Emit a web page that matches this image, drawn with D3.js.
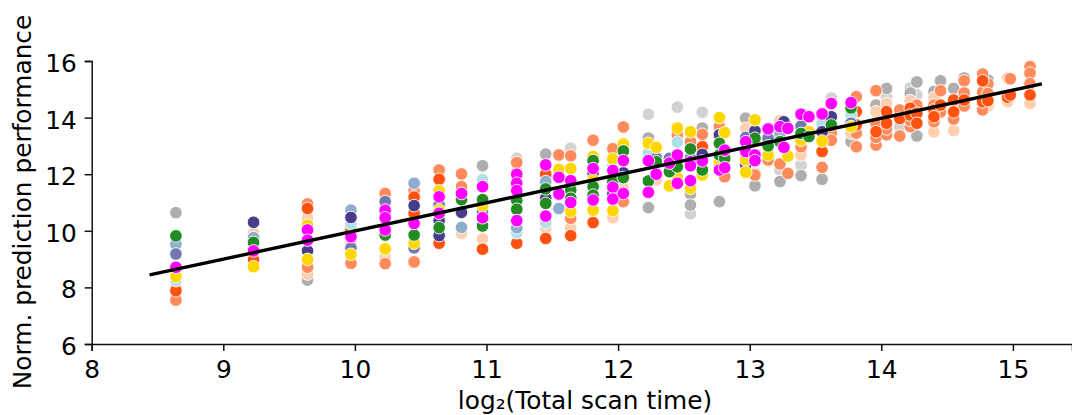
<!DOCTYPE html>
<html>
<head>
<meta charset="utf-8">
<script src="https://cdn.jsdelivr.net/npm/d3@7"></script>
<style>
  html, body { margin: 0; padding: 0; background: #fff; overflow: hidden; }
  text { font-family: "DejaVu Sans", sans-serif; fill: #000; }
</style>
</head>
<body>
<div id="chart"></div>
<script>
// Werte, je Farbe eine Liste [log2 Zeit, Leistung]
const lightGray = [[12.23,14.12],[12.45,14.37],[12.64,14.19],[12.55,10.6],[11.64,12.92],[11.23,12.56],[10.97,11.83],[12.97,13.98],[13.04,12.04],[13.23,12.15],[13.39,12.32],[13.62,14.69],[14.22,15.05],[14.04,14.7],[14.14,13.68],[14.27,14.8],[13.96,14.44]]
const darkGray = [[8.64,10.64],[9.64,8.26],[10.97,12.3],[11.45,12.71],[12.23,10.82],[12.23,13.28],[12.55,11.3],[12.55,10.91],[12.64,13.63],[12.77,11.03],[12.97,13.98],[13.04,11.59],[13.23,11.74],[13.39,11.95],[13.55,11.82],[13.77,13.15],[13.96,14.44],[14.04,15.03],[14.22,14.87],[14.27,15.26],[14.27,13.35],[14.4,14.92],[14.45,15.3],[14.55,15.03],[14.63,15.4],[14.81,15.33]]
const peach = [[8.64,8.08],[9.23,9.92],[9.64,10.45],[9.64,8.47],[9.97,9.56],[10.23,9.06],[10.81,9.91],[10.97,9.71],[11.23,12.1],[11.45,10.1],[11.64,10.1],[12.04,11.5],[11.96,10.46],[12.29,11.8],[12.97,13.62],[13.23,13.9],[13.39,12.68],[13.77,13.45],[13.96,14.21],[14.04,14.5],[14.14,14.27],[14.22,14.6],[14.4,14.7],[14.4,13.5],[14.55,13.54],[14.81,14.4],[14.96,15.4],[14.96,14.56],[15.13,14.5]]
const coral = [[8.64,7.55],[9.64,10.95],[9.64,8.71],[9.97,8.85],[10.23,11.32],[10.23,8.84],[10.45,11.41],[10.45,8.9],[10.64,12.15],[10.81,12.01],[10.81,11.56],[11.23,12.41],[11.55,12.68],[11.64,12.65],[11.64,10.44],[11.81,13.2],[11.96,12.9],[12.04,13.67],[12.04,11.03],[12.45,13.39],[12.55,13.15],[12.64,13.41],[12.77,13.68],[12.81,11.91],[13.04,11.97],[13.14,12.5],[13.23,12.36],[13.29,12.03],[13.39,12.97],[13.55,12.24],[13.62,13.44],[13.62,13.2],[13.81,14.74],[13.81,13.45],[13.81,12.97],[13.96,14.95],[13.96,13.8],[13.96,13.03],[13.96,13.3],[14.04,13.39],[14.04,13.6],[14.14,14.27],[14.14,13.35],[14.22,13.68],[14.22,13.9],[14.27,14.44],[14.4,14.44],[14.4,13.85],[14.45,14.95],[14.45,14.2],[14.55,13.95],[14.63,15.3],[14.63,14.87],[14.63,14.41],[14.77,15.54],[14.77,14.9],[14.77,14.27],[14.81,15.19],[14.81,14.85],[14.98,15.37],[15.13,15.8],[15.13,15.57],[15.13,15.2]]
const orangeRed = [[8.64,7.88],[9.23,8.97],[9.64,10.79],[9.97,10.03],[10.45,11.19],[10.45,10.62],[10.64,11.82],[10.64,9.56],[10.97,9.35],[11.23,9.56],[11.45,12.0],[11.45,9.73],[11.64,9.83],[11.81,10.29],[12.64,12.97],[12.77,13.4],[13.55,12.8],[13.81,14.21],[13.81,13.74],[13.96,13.5],[14.04,14.21],[14.04,13.8],[14.14,13.97],[14.22,14.33],[14.22,14.09],[14.27,14.15],[14.27,13.8],[14.4,14.27],[14.4,14.03],[14.45,14.44],[14.55,14.62],[14.55,14.2],[14.63,14.62],[14.77,15.3],[14.77,14.56],[14.81,14.6],[14.96,14.72],[14.98,14.8],[15.13,14.8]]
const powder = [[8.64,8.24],[9.97,10.24],[10.97,11.8],[11.23,9.93],[11.45,10.29],[11.96,12.3],[12.23,12.75],[12.45,13.13],[13.55,13.8],[13.77,14.09]]
const steel = [[8.64,9.53],[9.23,9.76],[9.97,10.73],[10.45,11.68],[10.81,10.12],[11.23,10.11],[11.45,11.74],[11.55,10.79],[13.23,13.45]]
const slate = [[8.64,9.18],[9.97,9.39],[10.23,11.03],[10.45,9.4],[10.64,10.91],[10.97,10.66],[12.29,12.57],[12.39,12.56],[12.55,12.57],[12.97,13.3],[13.14,13.27],[13.39,13.7],[13.77,13.8]]
const darkSlate = [[9.23,10.3],[9.64,9.29],[9.97,10.47],[10.45,10.89],[10.64,10.36],[10.64,9.83],[10.81,10.65],[11.45,11.15],[11.81,12.05],[11.96,11.3],[12.04,12.05],[12.64,12.7],[12.77,13.39],[12.97,12.33],[13.04,13.53],[13.26,13.85],[13.55,13.5],[13.62,14.03]]
const gold = [[8.64,8.38],[9.23,8.73],[9.64,10.2],[9.64,8.99],[9.97,9.17],[10.23,9.36],[10.45,9.56],[10.64,11.41],[10.64,10.73],[10.97,10.88],[11.55,12.17],[11.64,12.2],[11.64,10.68],[11.81,12.62],[11.81,11.8],[11.81,10.73],[11.96,12.54],[11.96,10.71],[12.04,13.07],[12.23,13.09],[12.29,12.95],[12.39,11.59],[12.45,13.63],[12.45,11.87],[12.55,13.5],[12.55,11.5],[12.64,11.97],[12.77,14.0],[12.77,12.39],[12.81,13.47],[12.97,12.5],[12.97,12.07],[13.04,13.92],[13.14,12.68],[13.29,12.64],[13.39,13.2],[13.45,13.5],[13.55,13.17],[13.77,13.68]]
const green = [[8.64,9.82],[9.23,9.59],[10.23,9.85],[10.45,9.85],[10.64,10.11],[10.81,11.1],[10.97,11.1],[10.97,10.17],[11.23,11.07],[11.23,10.76],[11.45,11.48],[11.45,10.97],[11.64,11.44],[11.64,11.15],[11.81,12.48],[11.81,11.56],[11.81,11.26],[11.96,11.74],[12.04,12.82],[12.04,11.88],[12.23,11.76],[12.29,12.44],[12.39,12.09],[12.45,12.26],[12.55,12.89],[12.64,12.15],[12.77,13.09],[12.77,12.68],[12.81,12.56],[13.04,13.27],[13.14,13.0],[13.23,13.15],[13.39,13.44],[13.45,13.33],[13.62,13.74],[13.77,14.34]]
const magenta = [[8.64,8.71],[9.23,9.29],[9.64,10.03],[9.64,9.67],[9.97,9.79],[10.23,10.73],[10.23,10.46],[10.23,10.03],[10.45,10.26],[10.64,11.2],[10.64,10.62],[10.81,11.32],[10.97,11.56],[10.97,10.46],[11.23,12.0],[11.23,11.68],[11.23,11.42],[11.23,10.36],[11.45,12.33],[11.45,10.52],[11.55,11.89],[11.55,11.3],[11.64,11.77],[11.64,11.0],[11.81,12.2],[11.81,11.09],[11.96,12.13],[11.96,11.54],[11.96,11.12],[12.04,12.48],[12.04,11.32],[12.23,12.48],[12.23,11.36],[12.29,12.0],[12.39,12.39],[12.45,12.68],[12.45,11.68],[12.55,12.44],[12.55,12.3],[12.55,11.77],[12.64,12.47],[12.77,12.15],[12.81,12.85],[12.81,12.23],[12.97,13.15],[12.97,12.8],[13.04,12.68],[13.04,12.48],[13.14,13.6],[13.23,13.68],[13.26,12.95],[13.29,13.62],[13.39,14.12],[13.45,14.03],[13.55,14.13],[13.62,14.5],[13.77,14.53]]

const seriesColors = ["#d2d2d2","#aeaeae","#ffcfb0","#ff8a5c","#ff5210","#b0e0e6","#8fadcf","#6f78b0","#483d8b","#ffd700","#228b22","#ff00ff"]
const seriesList = [lightGray, darkGray, peach, coral, orangeRed, powder, steel, slate, darkSlate, gold, green, magenta]

// Regressionsgerade
const lineX = [8.44, 15.22]
const lineY = [8.44, 15.19]

const xTicks = [8, 9, 10, 11, 12, 13, 14, 15]
const yTicks = [6, 8, 10, 12, 14, 16]

const width = 1072
const height = 415
const margin = { top: 61, right: 0, bottom: 71, left: 91.7 }

const svg = d3.select("#chart").append("svg")
  .attr("width", width)
  .attr("height", height)
  .style("display", "block")

const x = d3.scaleLinear()
  .domain([8, 8 + (width - margin.left) / 131.6])
  .range([margin.left, width - margin.right])

const y = d3.scaleLinear()
  .domain([6, 16])
  .range([height - margin.bottom, margin.top])

// Punkte, Farbe fuer Farbe
seriesList.forEach(function (points, i) {
  svg.append("g").selectAll("circle")
    .data(points)
    .enter().append("circle")
    .attr("cx", function (d) { return x(d[0]) })
    .attr("cy", function (d) { return y(d[1]) })
    .attr("r", 6.3)
    .attr("fill", seriesColors[i])
    .attr("stroke", "#fff")
    .attr("stroke-width", 0.9)
})

svg.append("path")
  .datum(lineX.map(function (v, i) { return [v, lineY[i]] }))
  .attr("fill", "none")
  .attr("stroke", "#000")
  .attr("stroke-width", 3.4)
  .attr("d", d3.line().x(function (d) { return x(d[0]) }).y(function (d) { return y(d[1]) }))

// Achsen
const xAxis = d3.axisBottom(x).tickValues(xTicks).tickSize(7).tickPadding(9.7)
const yAxis = d3.axisLeft(y).tickValues(yTicks).tickSize(7).tickPadding(8)

svg.append("g")
  .attr("transform", "translate(0," + (height - margin.bottom) + ")")
  .style("font-size", "24.8px")
  .call(xAxis)
  .call(function (g) { g.selectAll("line, path").attr("stroke", "#111").attr("stroke-width", 1.5) })
  .call(function (g) { g.selectAll("text").style("font-family", "DejaVu Sans") })

svg.append("g")
  .attr("transform", "translate(" + margin.left + ",0)")
  .style("font-size", "24.8px")
  .call(yAxis)
  .call(function (g) { g.selectAll("line, path").attr("stroke", "#111").attr("stroke-width", 1.5) })
  .call(function (g) { g.selectAll("text").attr("dy", "0.42em").style("font-family", "DejaVu Sans") })

// Achsentitel
svg.append("text")
  .attr("x", 585)
  .attr("y", 409)
  .attr("text-anchor", "middle")
  .style("font-size", "24.8px")
  .text("log₂(Total scan time)")

svg.append("text")
  .attr("transform", "translate(31,202) rotate(-90)")
  .attr("text-anchor", "middle")
  .style("font-size", "24.8px")
  .text("Norm. prediction performance")
</script>
</body>
</html>
